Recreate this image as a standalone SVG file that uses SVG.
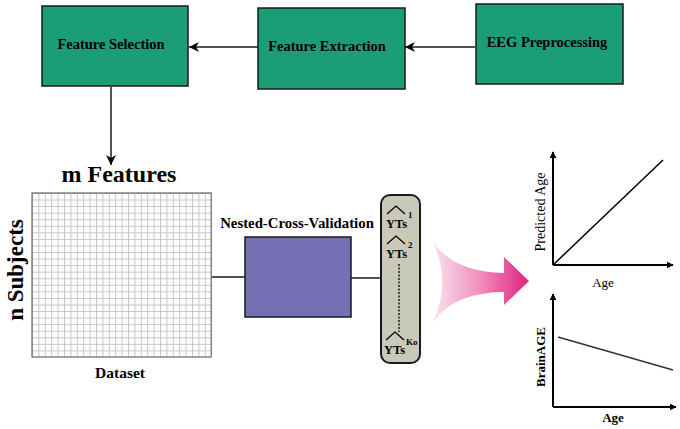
<svg xmlns="http://www.w3.org/2000/svg" width="680" height="429" viewBox="0 0 680 429">
<style>
.box{fill:#1b9e77;stroke:#1a1a1a;stroke-width:1.5}
.bt{font-family:'Liberation Serif','DejaVu Serif',serif;font-weight:bold;font-size:14.5px;fill:#000;text-anchor:middle}
.ln{stroke:#1a1a1a;stroke-width:1.5;fill:none}
.ser{font-family:'Liberation Serif','DejaVu Serif',serif;fill:#000}
.yt{font-family:'Liberation Serif','DejaVu Serif',serif;font-size:12.5px;font-weight:bold;fill:#000}
.sup{font-family:'Liberation Serif','DejaVu Serif',serif;font-size:9px;font-weight:bold;fill:#000}
.hat{stroke:#000;stroke-width:1.3;fill:none}
.ax{stroke:#000;stroke-width:2;fill:none}
</style>
<defs>
<marker id="ah" viewBox="0 0 10 10" refX="10" refY="5" markerWidth="10" markerHeight="10" markerUnits="userSpaceOnUse" orient="auto">
<path d="M0,0 L10,5 L0,10 L3,5 Z" fill="#000"/>
</marker>
<marker id="ah2" viewBox="0 0 10 10" refX="9" refY="5" markerWidth="7" markerHeight="7" markerUnits="userSpaceOnUse" orient="auto">
<path d="M0,0 L10,5 L0,10 Z" fill="#000"/>
</marker>
<pattern id="grid" patternUnits="userSpaceOnUse" x="32" y="193" width="6.4" height="6.56">
<path d="M0.5 0 V6.56 M0 0.5 H6.4" stroke="#c4c4c4" stroke-width="1" fill="none"/>
</pattern>
<linearGradient id="pink" x1="0" y1="0" x2="1" y2="0">
<stop offset="0" stop-color="#fbe3ef"/>
<stop offset="0.5" stop-color="#f08cbc"/>
<stop offset="1" stop-color="#e0237e"/>
</linearGradient>
</defs>

<g id="connectors">
<line class="ln" x1="475" y1="47" x2="405" y2="47" marker-end="url(#ah)"/>
<line class="ln" x1="258" y1="47" x2="189" y2="47" marker-end="url(#ah)"/>
<line class="ln" x1="111" y1="87" x2="111" y2="165" marker-end="url(#ah)"/>
<line class="ln" x1="212" y1="277" x2="245" y2="277"/>
<line class="ln" x1="351" y1="278" x2="381" y2="278"/>
</g>

<g id="feature-selection">
<rect class="box" x="42" y="6" width="146" height="80"/>
<text class="bt" x="111" y="49">Feature Selection</text>
</g>
<g id="feature-extraction">
<rect class="box" x="258" y="8" width="147" height="81"/>
<text class="bt" x="327" y="51">Feature Extraction</text>
</g>
<g id="eeg-preprocessing">
<rect class="box" x="476" y="4" width="147" height="80"/>
<text class="bt" x="547" y="47">EEG Preprocessing</text>
</g>

<g id="dataset">
<text class="ser" x="119" y="182" font-size="24" font-weight="bold" text-anchor="middle">m Features</text>
<rect x="32" y="193" width="179.2" height="164" fill="url(#grid)" stroke="#666" stroke-width="1.2"/>
<text class="ser" transform="translate(23,270) rotate(-90)" font-size="23" font-weight="bold" text-anchor="middle">n Subjects</text>
<text class="ser" x="120" y="378" font-size="15.5" font-weight="bold" text-anchor="middle">Dataset</text>
</g>

<g id="nested-cv">
<text class="ser" x="297" y="228" font-size="14.8" font-weight="bold" text-anchor="middle">Nested-Cross-Validation</text>
<rect x="245" y="237" width="106" height="80" fill="#7570b3" stroke="#1a1a1a" stroke-width="1.5"/>
</g>

<g id="predictions">
<rect x="381" y="195" width="39" height="168" rx="9" ry="9" fill="#c9c9b9" stroke="#1a1a1a" stroke-width="2"/>
<polyline class="hat" points="387,214 396,206 405,214"/>
<text class="yt" x="386" y="228">YTs</text>
<text class="sup" x="408" y="218">1</text>
<polyline class="hat" points="387,244 396,236 405,244"/>
<text class="yt" x="386" y="258">YTs</text>
<text class="sup" x="408" y="248">2</text>
<line x1="399" y1="264" x2="399" y2="332" stroke="#000" stroke-width="1.3" stroke-dasharray="2,1.5"/>
<polyline class="hat" points="386,340 395,332 404,340"/>
<text class="yt" x="384" y="354">YTs</text>
<text class="sup" x="406" y="345">Ko</text>
</g>

<g id="pink-arrow">
<path d="M432 240 Q452 272 504 273 L504 257 L529 281 L504 305 L504 292 Q455 292 433 322 Q452 281 432 240 Z" fill="url(#pink)"/>
</g>

<g id="predicted-age-chart">
<line class="ax" x1="553" y1="265" x2="553" y2="152" marker-end="url(#ah2)"/>
<line class="ax" x1="553" y1="265" x2="673" y2="265" marker-end="url(#ah2)"/>
<line x1="553" y1="265" x2="663" y2="160" stroke="#000" stroke-width="1.5"/>
<text class="ser" transform="translate(545,212) rotate(-90)" font-size="14" text-anchor="middle">Predicted Age</text>
<text class="ser" x="603" y="287" font-size="13" text-anchor="middle">Age</text>
</g>

<g id="brainage-chart">
<line class="ax" x1="553" y1="407" x2="553" y2="294" marker-end="url(#ah2)"/>
<line class="ax" x1="553" y1="407" x2="676" y2="407" marker-end="url(#ah2)"/>
<line x1="558" y1="337" x2="673" y2="370" stroke="#333" stroke-width="1.5"/>
<text class="ser" transform="translate(545,357) rotate(-90)" font-size="13" font-weight="bold" text-anchor="middle">BrainAGE</text>
<text class="ser" x="613" y="422" font-size="13" font-weight="bold" text-anchor="middle">Age</text>
</g>
</svg>
